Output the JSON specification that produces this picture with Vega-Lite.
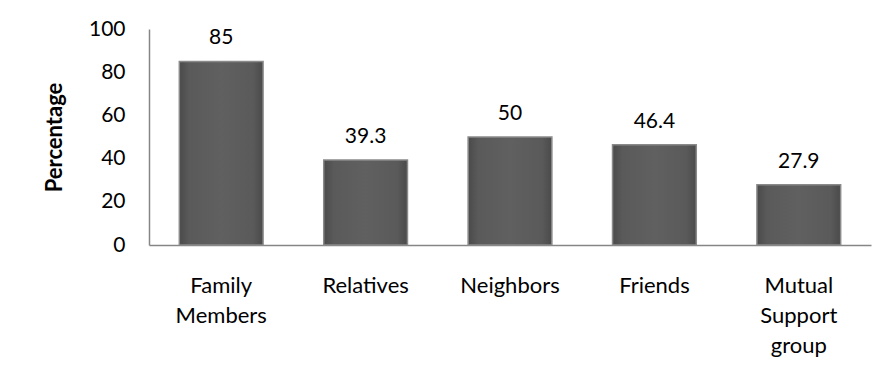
{
  "$schema": "https://vega.github.io/schema/vega-lite/v6.json",
  "width": 722,
  "height": 216,
  "autosize": {"type": "none"},
  "padding": {"left": 149, "top": 29, "right": 18, "bottom": 142},
  "background": "white",
  "config": {
    "view": {"stroke": null},
    "font": "Lato",
    "axis": {"labelFont": "Lato", "titleFont": "Lato", "labelColor": "#000000", "titleColor": "#000000"}
  },
  "data": {
    "values": [
      {"category": "Family Members", "percentage": 85},
      {"category": "Relatives", "percentage": 39.3},
      {"category": "Neighbors", "percentage": 50},
      {"category": "Friends", "percentage": 46.4},
      {"category": "Mutual Support group", "percentage": 27.9}
    ]
  },
  "encoding": {
    "x": {
      "field": "category",
      "type": "nominal",
      "sort": null,
      "scale": {"paddingInner": 0.42, "paddingOuter": 0.21},
      "axis": {
        "title": null,
        "labelAngle": 0,
        "ticks": false,
        "domainColor": "#868686",
        "domainWidth": 1.5,
        "labelFontSize": 22,
        "labelPadding": 30,
        "labelLineHeight": 30,
        "labelExpr": "datum.value == 'Family Members' ? ['Family', 'Members'] : datum.value == 'Mutual Support group' ? ['Mutual', 'Support', 'group'] : datum.value"
      }
    },
    "y": {
      "field": "percentage",
      "type": "quantitative",
      "scale": {"domain": [0, 100]},
      "axis": {
        "title": "Percentage",
        "titleFontSize": 22,
        "titleFontWeight": "bold",
        "titlePadding": 22,
        "values": [0, 20, 40, 60, 80, 100],
        "grid": false,
        "ticks": false,
        "domainColor": "#868686",
        "domainWidth": 1.5,
        "labelFontSize": 21,
        "labelPadding": 24
      }
    }
  },
  "layer": [
    {
      "mark": {
        "type": "bar",
        "stroke": "#8a8a8a",
        "strokeWidth": 1.5,
        "color": {
          "gradient": "linear",
          "x1": 0, "y1": 0, "x2": 1, "y2": 0,
          "stops": [
            {"offset": 0, "color": "#4a4a4a"},
            {"offset": 0.12, "color": "#5a5a5a"},
            {"offset": 0.5, "color": "#606060"},
            {"offset": 0.88, "color": "#5a5a5a"},
            {"offset": 1, "color": "#4a4a4a"}
          ]
        }
      }
    },
    {
      "mark": {"type": "text", "baseline": "alphabetic", "dy": -17, "fontSize": 21, "color": "#000000"},
      "encoding": {"text": {"field": "percentage", "type": "quantitative"}}
    }
  ]
}
